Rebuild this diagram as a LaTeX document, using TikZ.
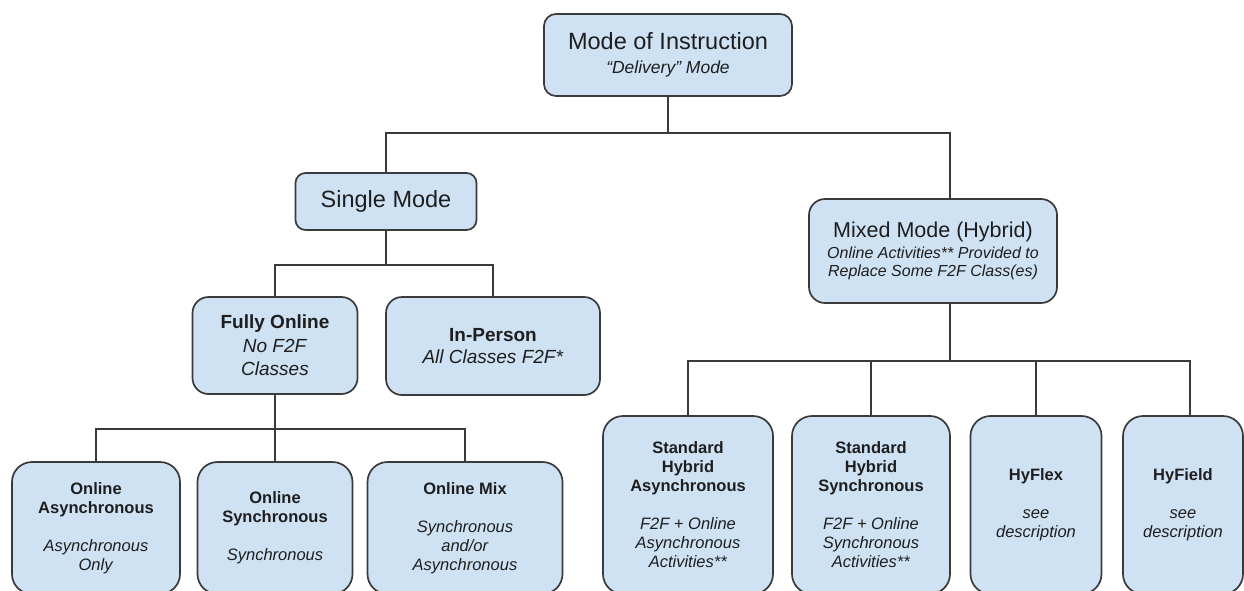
\documentclass[tikz,border=0pt]{standalone}
\usepackage{fontspec}
\setmainfont{Liberation Sans}
\usetikzlibrary{calc}
\definecolor{boxfill}{HTML}{CFE2F3}
\definecolor{edgecol}{HTML}{3A3A3A}
\definecolor{txtcol}{HTML}{1E1E1E}
\tikzset{
  box/.style={draw=edgecol, line width=1.7pt, fill=boxfill, text=txtcol, align=center, inner sep=0pt, rounded corners=#1},
  conn/.style={draw=edgecol, line width=1.9pt},
  bottombox/.style={box=20pt, font=\fontsize{16.5}{19}\selectfont},
}
\begin{document}
\begin{tikzpicture}[x=1pt,y=-1pt]
\useasboundingbox (0,0) rectangle (1244,590);
\clip (0,0) rectangle (1244,590);

% level 0
\node[box=12pt, minimum width=248pt, minimum height=82pt, font=\fontsize{17.5}{23.5}\selectfont] (top) at (668,55)
  {{\fontsize{23.5}{27}\selectfont Mode of Instruction}\\{\itshape “Delivery” Mode}};

% level 1
\node[box=10pt, minimum width=181pt, minimum height=57pt, font=\fontsize{23.5}{27}\selectfont] (single) at (386,201.5) {Single Mode};
\node[box=16pt, minimum width=248pt, minimum height=104pt, font=\fontsize{16}{18.5}\selectfont] (mixed) at (933,251)
  {{\fontsize{21.5}{24}\selectfont Mixed Mode (Hybrid)}\\[2pt]{\itshape Online Activities** Provided to}\\{\itshape Replace Some F2F Class(es)}};

% level 2
\node[box=16pt, minimum width=165pt, minimum height=97pt, font=\fontsize{19}{23.5}\selectfont] (fully) at (275,345.5)
  {\textbf{Fully Online}\\\textit{No F2F}\\\textit{Classes}};
\node[box=16pt, minimum width=214pt, minimum height=98pt, font=\fontsize{19}{21.5}\selectfont] (inperson) at (493,346)
  {\textbf{In-Person}\\\textit{All Classes F2F*}};

% level 3 left
\node[bottombox, minimum width=168pt, minimum height=132pt] (oasync) at (96,528)
  {\textbf{Online}\\\textbf{Asynchronous}\\[19pt]\textit{Asynchronous}\\\textit{Only}};
\node[bottombox, minimum width=155pt, minimum height=132pt] (osync) at (275,528)
  {\textbf{Online}\\\textbf{Synchronous}\\[19pt]\textit{Synchronous}};
\node[bottombox, minimum width=195pt, minimum height=132pt] (omix) at (465,528)
  {\textbf{Online Mix}\\[19pt]\textit{Synchronous}\\\textit{and/or}\\\textit{Asynchronous}};

% level 3 right
\node[bottombox, minimum width=170pt, minimum height=178pt] (stdasync) at (688,505)
  {\textbf{Standard}\\\textbf{Hybrid}\\\textbf{Asynchronous}\\[19pt]\textit{F2F + Online}\\\textit{Asynchronous}\\\textit{Activities**}};
\node[bottombox, minimum width=158pt, minimum height=178pt] (stdsync) at (871,505)
  {\textbf{Standard}\\\textbf{Hybrid}\\\textbf{Synchronous}\\[19pt]\textit{F2F + Online}\\\textit{Synchronous}\\\textit{Activities**}};
\node[bottombox, minimum width=131pt, minimum height=178pt] (hyflex) at (1036,505)
  {\textbf{HyFlex}\\[19pt]\textit{see}\\\textit{description}};
\node[bottombox, minimum width=120pt, minimum height=178pt] (hyfield) at (1183,505)
  {\textbf{HyField}\\[19pt]\textit{see}\\\textit{description}};

% connectors
\coordinate (b0) at (668,133);
\coordinate (mixtop) at ($(mixed.north)+(17,0)$);
\draw[conn] (top.south) -- (b0);
\draw[conn] (single.north) |- (mixtop |- b0) -- (mixtop);

\coordinate (b1) at ($(single.south)+(0,34)$);
\draw[conn] (single.south) -- (b1);
\draw[conn] (fully.north) |- (inperson.north |- b1) -- (inperson.north);

\coordinate (b2) at ($(fully.south)+(0,34)$);
\draw[conn] (fully.south) -- (b2);
\draw[conn] (oasync.north) |- (omix.north |- b2) -- (omix.north);
\draw[conn] (osync.north) -- (osync.north |- b2);

\coordinate (mixbot) at ($(mixed.south)+(17,0)$);
\coordinate (b3) at ($(mixbot)+(0,57)$);
\coordinate (hfc) at ($(hyfield.north)+(7,0)$);
\draw[conn] (mixbot) -- (b3);
\draw[conn] (stdasync.north) |- (hfc |- b3) -- (hfc);
\draw[conn] (stdsync.north) -- (stdsync.north |- b3);
\draw[conn] (hyflex.north) -- (hyflex.north |- b3);
\end{tikzpicture}
\end{document}
